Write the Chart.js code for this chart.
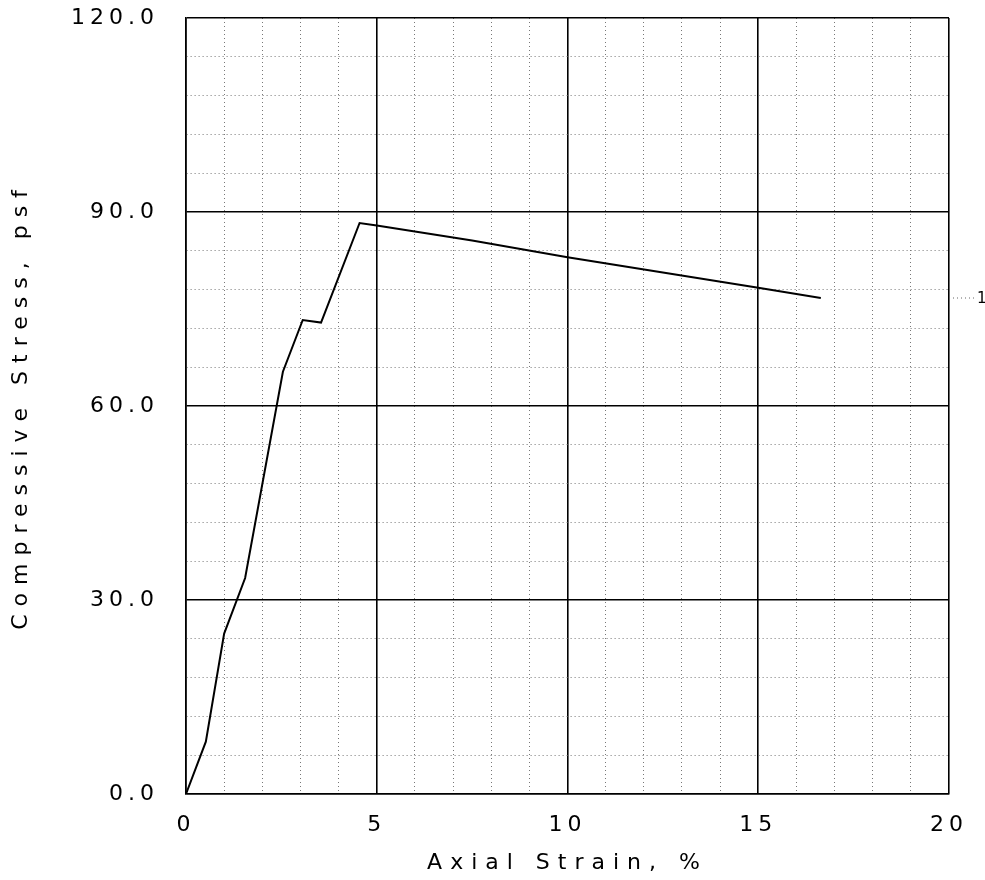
<!DOCTYPE html>
<html>
<head>
<meta charset="utf-8">
<script src="https://cdn.jsdelivr.net/npm/chart.js@4.4.1/dist/chart.umd.min.js"></script>
<style>
    html, body { margin: 0; padding: 0; background: #fff; }
    #wrap { width: 985px; height: 880px; }
</style>
</head>
<body>
<div id="wrap"><canvas id="stressChart"></canvas></div>
<script>
// valores (deformacion axial %, esfuerzo psf)
const strainValues = [0, 0.52, 1.0, 1.55, 2.54, 3.06, 3.54, 4.55, 5.0, 7.5, 10.0, 15.0, 16.64];
const stressValues = [0, 8.1, 24.8, 33.4, 65.3, 73.3, 72.9, 88.3, 87.9, 85.6, 83.0, 78.3, 76.7];
const xTickLabels = [0, 5, 10, 15, 20];
const yTickLabels = [0, 30, 60, 90, 120];
const curveLabel = '1';

const plotFont = "'DejaVu Sans', sans-serif";

// espaciado de letras tipo plotter: titulos mas abiertos que los numeros
const spacingPlugin = {
    id: 'spacing',
    beforeLayout(chart) { chart.ctx.letterSpacing = '5px'; },
    beforeDraw(chart) { chart.ctx.letterSpacing = '8px'; },
    afterDatasetsDraw(chart) { chart.ctx.letterSpacing = '5px'; }
};

// etiqueta "1" a la derecha del final de la curva
const curveLabelPlugin = {
    id: 'curveLabel',
    afterDatasetsDraw(chart) {
        const meta = chart.getDatasetMeta(0);
        const last = meta.data[meta.data.length - 1];
        const right = chart.chartArea.right;
        const ctx = chart.ctx;
        ctx.save();
        ctx.letterSpacing = '0px';
        ctx.strokeStyle = '#666';
        ctx.lineWidth = 1;
        ctx.setLineDash([1, 3]);
        ctx.beginPath();
        ctx.moveTo(right + 4, last.y);
        ctx.lineTo(right + 25, last.y);
        ctx.stroke();
        ctx.fillStyle = '#000';
        ctx.font = "15px 'DejaVu Sans', sans-serif";
        ctx.textBaseline = 'middle';
        ctx.fillText(curveLabel, right + 28, last.y + 1);
        ctx.restore();
    }
};

function isMajorX(v) { return xTickLabels.includes(v); }
function isMajorY(v) { return yTickLabels.includes(v); }

function createStressChart() {
    const ctx = document.getElementById('stressChart').getContext('2d');

    const points = strainValues.map((x, i) => ({ x: x, y: stressValues[i] }));

    new Chart(ctx, {
        type: 'line',
        data: {
            datasets: [{
                label: curveLabel,
                data: points,
                borderColor: '#000',
                borderWidth: 2,
                pointRadius: 0,
                tension: 0,
                fill: false
            }]
        },
        options: {
            responsive: true,
            maintainAspectRatio: false,
            animation: false,
            layout: { padding: { top: 18, right: 36, left: 0, bottom: 0 } },
            plugins: {
                legend: { display: false },
                tooltip: { enabled: false }
            },
            scales: {
                x: {
                    type: 'linear',
                    min: 0,
                    max: 20,
                    afterFit: s => {
                        s.height = 86;
                        s.paddingLeft = 0;
                        s.paddingRight = 0;
                    },
                    ticks: {
                        stepSize: 1,
                        autoSkip: false,
                        maxRotation: 0,
                        padding: 18,
                        z: 1,
                        color: '#000',
                        font: { family: plotFont, size: 22 },
                        callback: v => isMajorX(v) ? String(v) : ''
                    },
                    grid: {
                        drawTicks: false,
                        color: c => (c.tick && isMajorX(c.tick.value)) ? '#000' : '#777',
                        lineWidth: c => (c.tick && isMajorX(c.tick.value)) ? 1.6 : 1
                    },
                    border: {
                        display: true,
                        color: '#000',
                        width: 1.6,
                        dash: c => (c.tick && !isMajorX(c.tick.value)) ? [1, 3] : []
                    },
                    title: {
                        display: true,
                        text: 'Axial Strain, %',
                        color: '#000',
                        font: { family: plotFont, size: 22 },
                        padding: { top: 4, bottom: 4 }
                    }
                },
                y: {
                    type: 'linear',
                    min: 0,
                    max: 120,
                    afterFit: s => {
                        s.width = 186;
                        s.paddingTop = 0;
                        s.paddingBottom = 0;
                    },
                    ticks: {
                        stepSize: 6,
                        autoSkip: false,
                        padding: 27,
                        z: 1,
                        color: '#000',
                        font: { family: plotFont, size: 22 },
                        callback: v => isMajorY(v) ? v.toFixed(1) : ''
                    },
                    grid: {
                        drawTicks: false,
                        color: c => (c.tick && isMajorY(c.tick.value)) ? '#000' : '#777',
                        lineWidth: c => (c.tick && isMajorY(c.tick.value)) ? 1.6 : 1
                    },
                    border: {
                        display: true,
                        color: '#000',
                        width: 1.6,
                        dash: c => (c.tick && !isMajorY(c.tick.value)) ? [1, 3] : []
                    },
                    title: {
                        display: true,
                        text: 'Compressive Stress, psf',
                        color: '#000',
                        font: { family: plotFont, size: 22 },
                        padding: { top: 8, bottom: 0 }
                    }
                }
            }
        },
        plugins: [spacingPlugin, curveLabelPlugin]
    });
}

document.addEventListener('DOMContentLoaded', createStressChart);
</script>
</body>
</html>
